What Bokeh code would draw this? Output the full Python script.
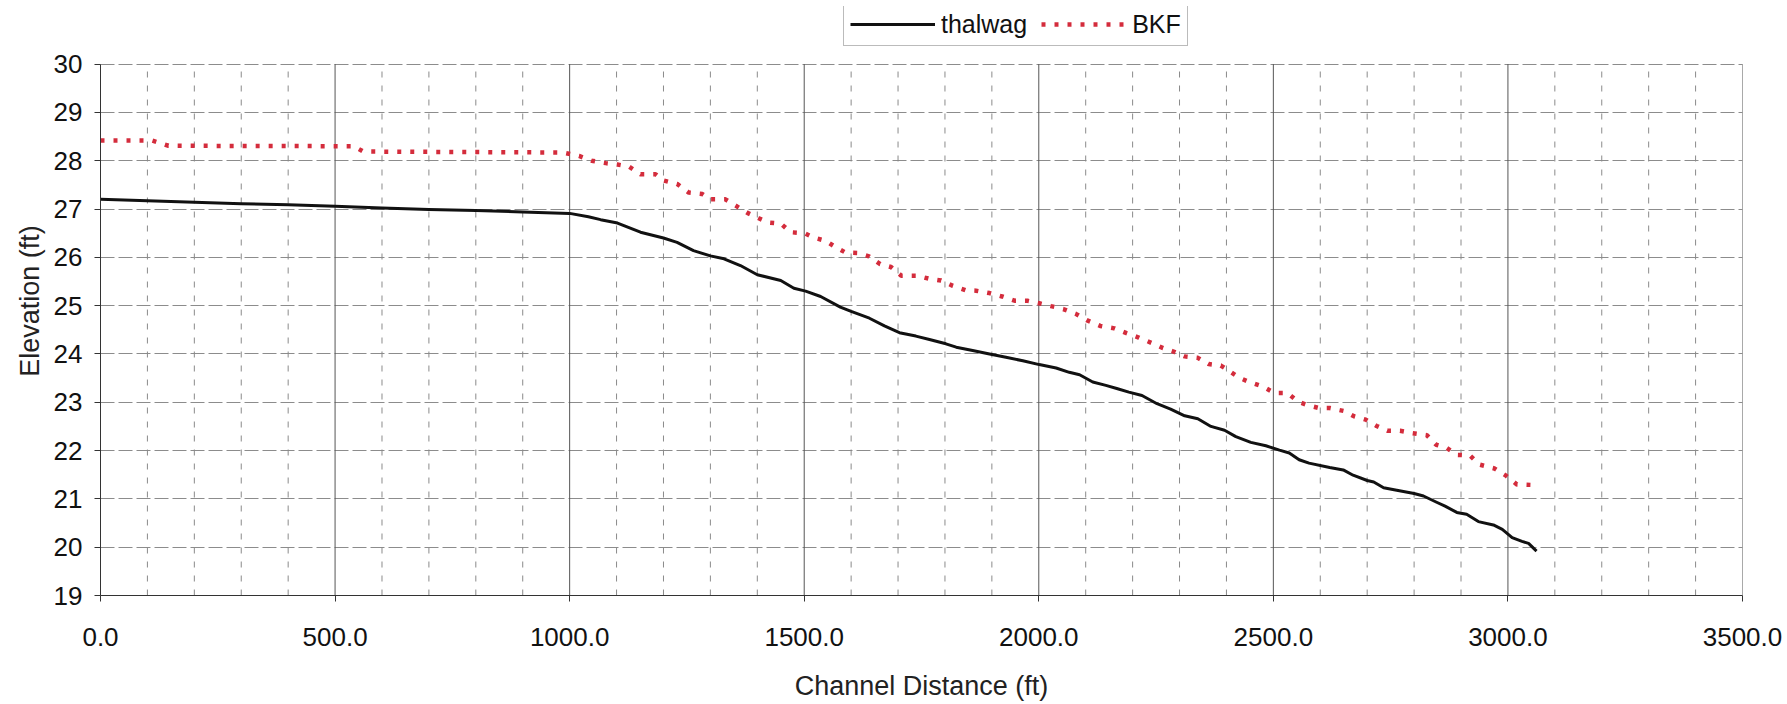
from bokeh.plotting import figure
from bokeh.models import (FixedTicker, NumeralTickFormatter, Legend, LegendItem, Range1d)
from bokeh.embed import file_html
from bokeh.resources import INLINE

# ---- data ----
thalwag_dist = [0, 100, 200, 300, 400, 500, 600, 700, 800, 900,
                1000, 1040, 1066, 1102, 1151, 1200, 1229, 1264, 1300, 1329,
                1364, 1400, 1450, 1478, 1503, 1535, 1577, 1600, 1639, 1671,
                1703, 1738, 1767, 1802, 1824, 1859, 1895, 1930, 1966, 2001,
                2037, 2065, 2087, 2115, 2143, 2168, 2192, 2220, 2252, 2281,
                2311, 2339, 2367, 2396, 2420, 2452, 2484, 2513, 2534, 2555,
                2576, 2620, 2649, 2670, 2700, 2714, 2735, 2763, 2800, 2820,
                2848, 2866, 2891, 2912, 2937, 2969, 2988, 3009, 3030, 3044,
                3061]
thalwag_elev = [27.20, 27.17, 27.14, 27.11, 27.09, 27.06, 27.02, 26.99, 26.97, 26.94,
                26.91, 26.84, 26.78, 26.71, 26.52, 26.40, 26.31, 26.14, 26.03, 25.97,
                25.83, 25.64, 25.52, 25.36, 25.30, 25.19, 24.97, 24.88, 24.74, 24.58,
                24.44, 24.37, 24.30, 24.21, 24.14, 24.07, 24.00, 23.93, 23.86, 23.78,
                23.71, 23.62, 23.57, 23.42, 23.35, 23.28, 23.21, 23.14, 22.97, 22.86,
                22.72, 22.66, 22.50, 22.42, 22.29, 22.17, 22.10, 22.01, 21.95, 21.81,
                21.74, 21.65, 21.60, 21.49, 21.38, 21.35, 21.23, 21.18, 21.11, 21.06,
                20.93, 20.85, 20.72, 20.68, 20.53, 20.46, 20.37, 20.20, 20.12, 20.08,
                19.92]

bkf_dist = [0, 110, 145, 540, 560, 985, 1020, 1047, 1077, 1102,
            1126, 1151, 1183, 1200, 1229, 1254, 1283, 1300, 1332, 1354,
            1379, 1403, 1424, 1450, 1471, 1501, 1520, 1546, 1567, 1588,
            1614, 1638, 1662, 1685, 1707, 1740, 1765, 1792, 1817, 1844,
            1866, 1895, 1922, 1950, 1976, 2001, 2026, 2052, 2079, 2102,
            2131, 2161, 2187, 2213, 2240, 2265, 2287, 2311, 2339, 2362,
            2388, 2407, 2429, 2451, 2479, 2502, 2530, 2553, 2573, 2597,
            2620, 2650, 2672, 2697, 2720, 2743, 2770, 2797, 2827, 2847,
            2869, 2892, 2919, 2939, 2971, 2996, 3019, 3048]
bkf_elev = [28.42, 28.42, 28.31, 28.30, 28.19, 28.17, 28.10, 28.00, 27.95, 27.92,
            27.88, 27.72, 27.72, 27.59, 27.52, 27.34, 27.31, 27.20, 27.20, 27.07,
            26.92, 26.81, 26.72, 26.70, 26.52, 26.50, 26.41, 26.34, 26.21, 26.10,
            26.09, 26.02, 25.86, 25.80, 25.62, 25.62, 25.56, 25.52, 25.41, 25.32,
            25.31, 25.26, 25.19, 25.10, 25.10, 25.05, 24.99, 24.93, 24.83, 24.70,
            24.58, 24.53, 24.43, 24.34, 24.23, 24.12, 24.05, 23.95, 23.92, 23.79,
            23.76, 23.64, 23.50, 23.41, 23.32, 23.19, 23.19, 23.01, 22.94, 22.88,
            22.88, 22.82, 22.71, 22.64, 22.51, 22.41, 22.41, 22.36, 22.32, 22.12,
            22.06, 21.91, 21.90, 21.71, 21.63, 21.48, 21.30, 21.29]

x_major_ticks = [0, 500, 1000, 1500, 2000, 2500, 3000, 3500]
x_minor_ticks = [100, 200, 300, 400, 600, 700, 800, 900, 1100, 1200, 1300, 1400,
                 1600, 1700, 1800, 1900, 2100, 2200, 2300, 2400, 2600, 2700, 2800,
                 2900, 3100, 3200, 3300, 3400]
y_ticks = [19, 20, 21, 22, 23, 24, 25, 26, 27, 28, 29, 30]

FONT = "Liberation Sans"

# ---- layout (pixels) ----
W, H = 1786, 703
PLOT_L, PLOT_R = 100, 1742        # x = 0 .. 3500
PLOT_T, PLOT_B = 64, 599          # y = 30 .. 19
FRAME_T = 6                       # frame reaches up so the legend sits inside it
Y0, Y1 = y_ticks[0], y_ticks[-1]
px_per_unit = (PLOT_B - PLOT_T) / (Y1 - Y0)
y_top = Y1 + (PLOT_T - FRAME_T) / px_per_unit

p = figure(width=W, height=H, x_range=Range1d(0, 3500), y_range=Range1d(Y0, y_top),
           output_backend="svg", toolbar_location=None,
           min_border_left=PLOT_L, min_border_right=W - PLOT_R, min_border_top=FRAME_T,
           min_border_bottom=H - PLOT_B,
           background_fill_color="white", border_fill_color="white")
p.outline_line_color = None

# axes
p.xaxis.ticker = FixedTicker(ticks=x_major_ticks, minor_ticks=x_minor_ticks)
p.xaxis.formatter = NumeralTickFormatter(format="0.0")
p.yaxis.ticker = FixedTicker(ticks=y_ticks)
p.yaxis.bounds = (Y0, Y1)
for ax in (p.xaxis, p.yaxis):
    ax.axis_line_color = "#333333"
    ax.axis_line_width = 1
    ax.major_tick_line_color = "#333333"
    ax.major_tick_out = 6
    ax.major_tick_in = 0
    ax.minor_tick_out = 0
    ax.minor_tick_in = 0
    ax.major_label_text_font = FONT
    ax.major_label_text_font_size = "26px"
    ax.major_label_text_color = "#111111"
    ax.axis_label_text_font = FONT
    ax.axis_label_text_font_size = "27px"
    ax.axis_label_text_font_style = "normal"
    ax.axis_label_text_color = "#222222"

p.xaxis.axis_label = "Channel Distance (ft)"
p.yaxis.axis_label = "Elevation (ft)"
p.xaxis.major_label_standoff = 26
p.xaxis.axis_label_standoff = 22
p.yaxis.major_label_standoff = 12
p.yaxis.axis_label_standoff = 6

# grids: horizontal via the grid, vertical as segments limited to 19..30
p.xgrid.visible = False
p.ygrid.grid_line_color = "#8c8c8c"
p.ygrid.grid_line_width = 1
p.ygrid.grid_line_dash = "14 4"

p.segment(x0=x_minor_ticks, y0=[Y0] * len(x_minor_ticks),
          x1=x_minor_ticks, y1=[Y1] * len(x_minor_ticks),
          line_color="#8a8a8a", line_width=1, line_dash="6 8")
p.segment(x0=x_major_ticks, y0=[Y0] * len(x_major_ticks),
          x1=x_major_ticks, y1=[Y1] * len(x_major_ticks),
          line_color="#555555", line_width=1)

# series
r_thal = p.line(thalwag_dist, thalwag_elev, line_color="#111111", line_width=3,
                line_join="round")
r_bkf = p.line(bkf_dist, bkf_elev, line_color="#d42c3c", line_width=4.5,
               line_dash="4 9", line_cap="butt")

# legend: (x, y) = bottom-left corner, in px from the frame's bottom-left
legend = Legend(items=[LegendItem(label="thalwag", renderers=[r_thal]),
                       LegendItem(label="BKF", renderers=[r_bkf])],
                orientation="horizontal", location=(843 - PLOT_L, PLOT_B - 50),
                label_text_font=FONT, label_text_font_size="25px",
                label_text_color="#111111",
                glyph_width=85, glyph_height=30, label_height=30,
                label_standoff=6, spacing=14, padding=6, margin=0,
                border_line_color="#777777", border_line_width=1,
                background_fill_color="white", background_fill_alpha=1.0)
p.add_layout(legend, "center")

open("out.html", "w").write(file_html(p, INLINE))
